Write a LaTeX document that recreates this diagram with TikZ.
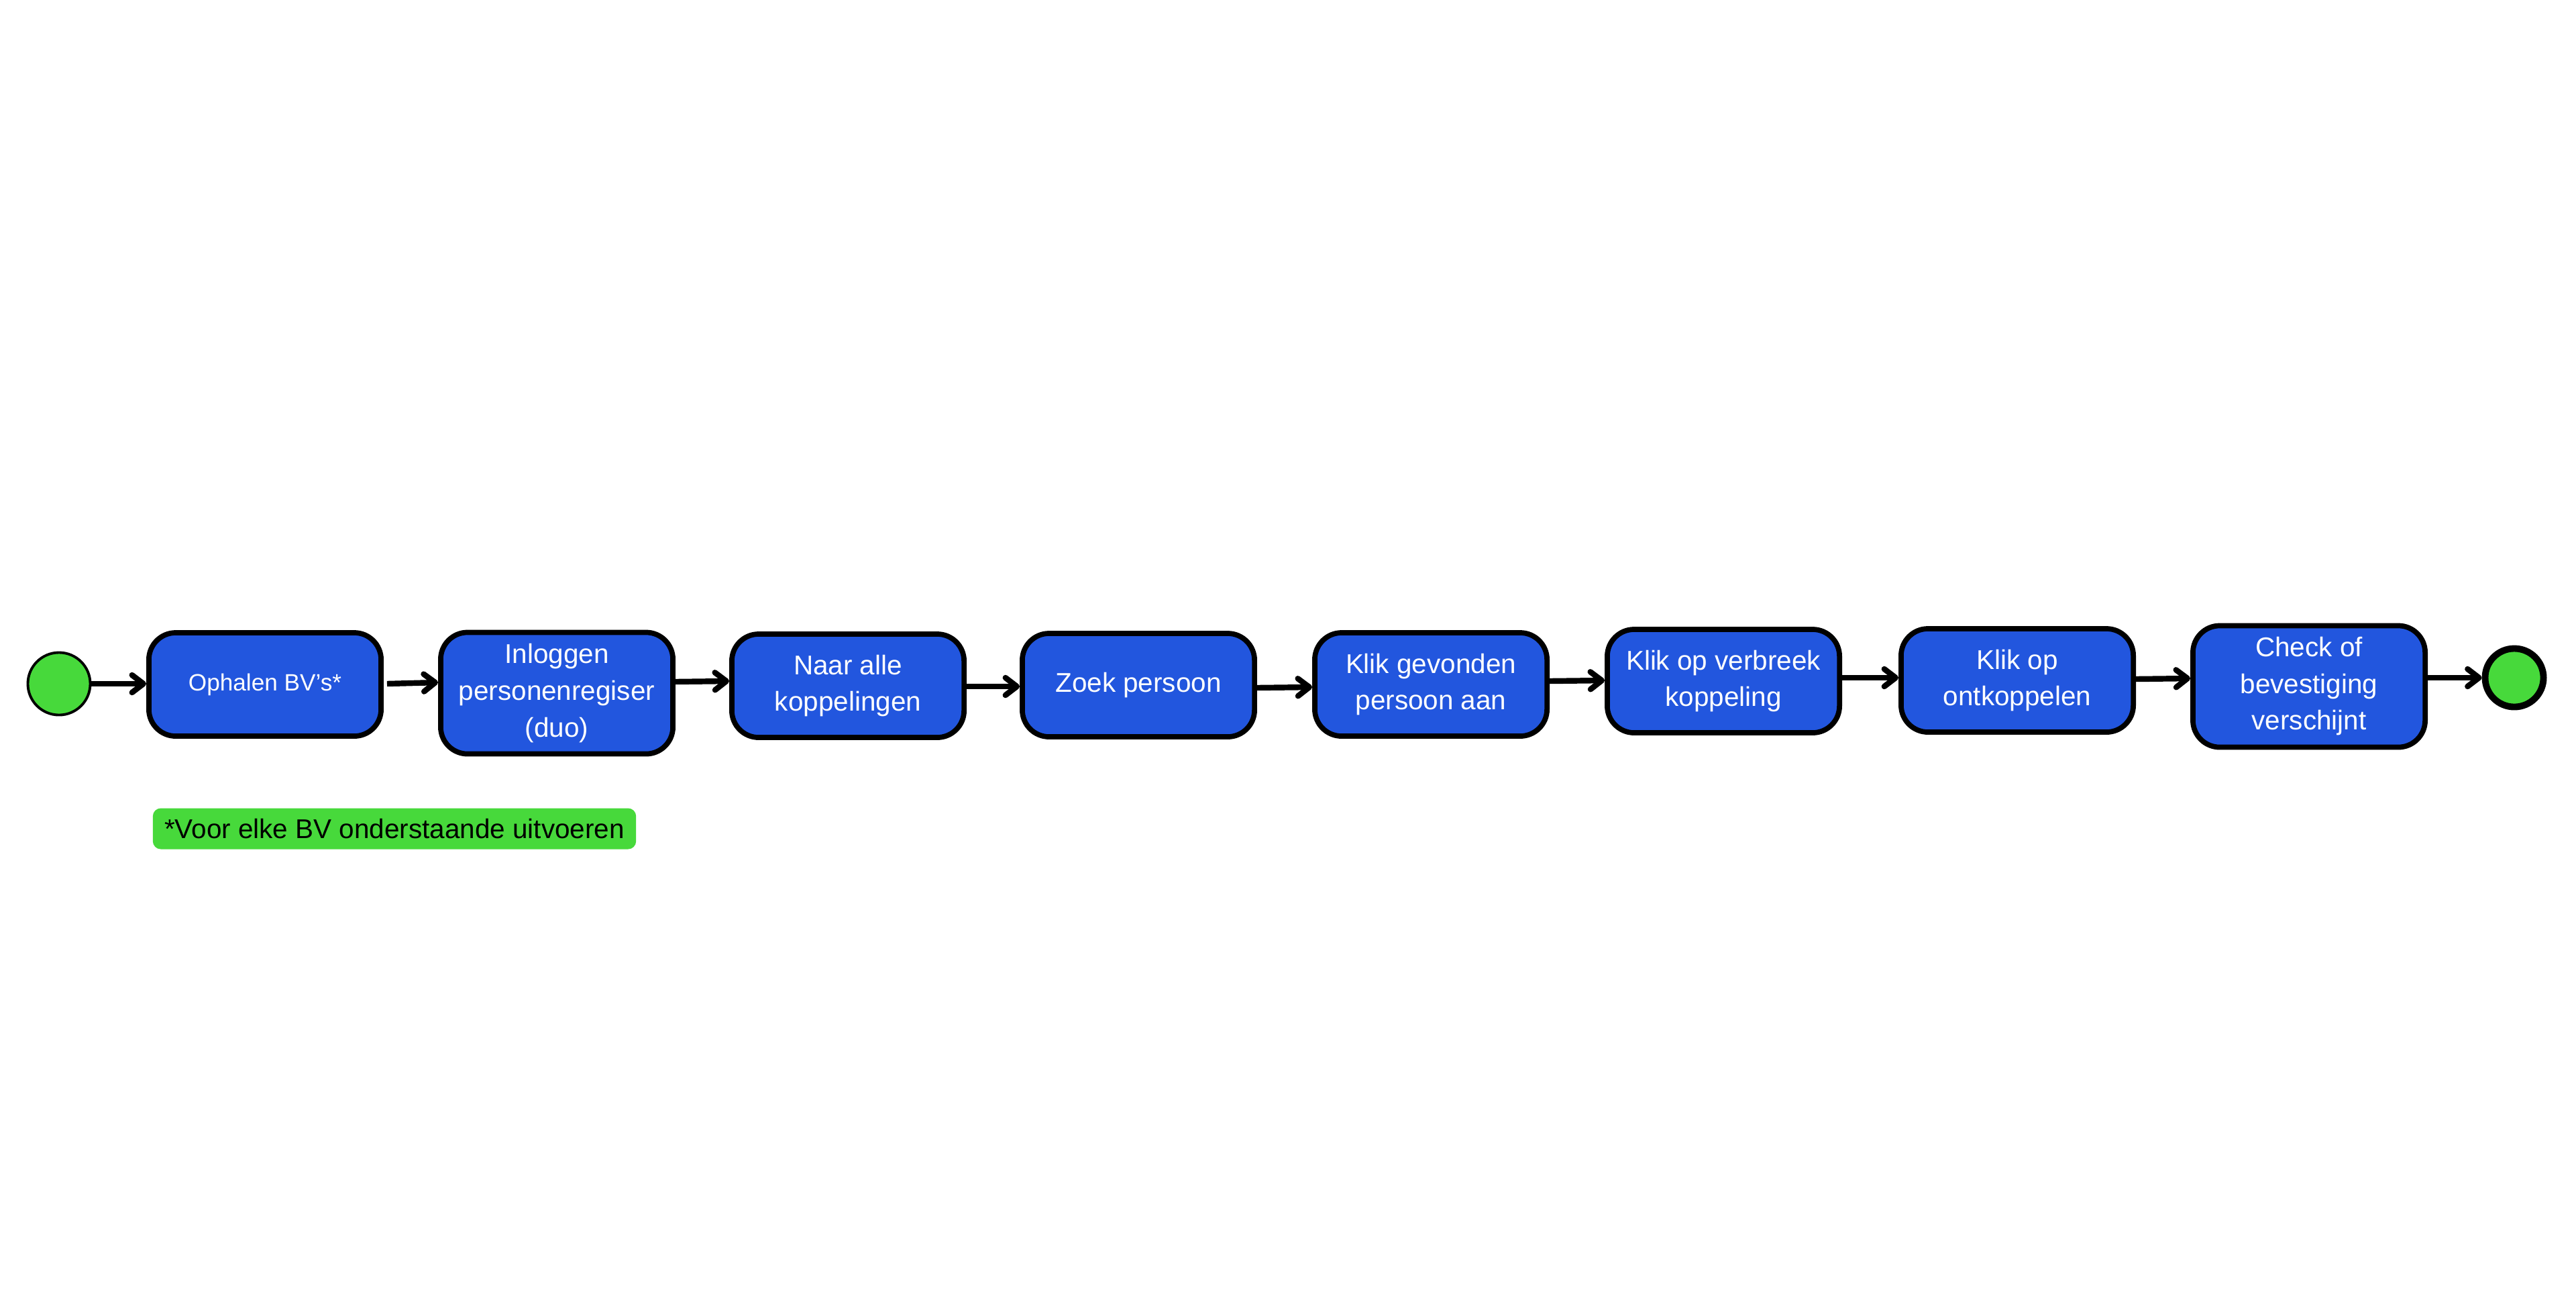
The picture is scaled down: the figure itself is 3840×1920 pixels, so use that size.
\documentclass[tikz,border=0pt]{standalone}
\usepackage{fontspec}
\setmainfont{Liberation Sans}
\usetikzlibrary{arrows.meta}
\definecolor{boxblue}{HTML}{2256DE}
\definecolor{stategreen}{HTML}{47D93B}
\tikzset{
  stepbox/.style={draw=black, line width=2.2pt, fill=boxblue, rounded corners=0.4cm,
    minimum width=3.46cm, minimum height=1.54cm, align=center, text=white,
    font=\fontsize{11.5}{15.5}\selectfont, inner sep=0pt},
  tallbox/.style={stepbox, minimum height=1.81cm},
  startnode/.style={circle, draw=black, line width=1.1pt, fill=stategreen, minimum size=0.93cm, inner sep=0pt},
  endnode/.style={circle, draw=black, line width=2.8pt, fill=stategreen, minimum size=0.87cm, inner sep=0pt},
  flow/.style={line width=2.4pt, -{Straight Barb[length=0.17cm, width=0.26cm, line cap=round, line join=round]}},
  notebox/.style={fill=stategreen, rounded corners=0.12cm, minimum width=7.2cm, minimum height=0.61cm,
    inner sep=0pt, font=\fontsize{11.5}{14}\selectfont, text=black}
}
\begin{document}
\begin{tikzpicture}[x=0.01cm, y=-0.01cm]
\useasboundingbox (0,0) rectangle (3840,1920);
\fill[white] (0,0) rectangle (3840,1920);
\node[startnode] (start) at (88,1019) {};
\node[stepbox, font=\fontsize{10}{13}\selectfont] (b1) at (395,1020) {Ophalen BV's*};
\node[tallbox] (b2) at (830,1033) {Inloggen\\personenregiser\\(duo)};
\node[stepbox] (b3) at (1264,1022) {Naar alle\\koppelingen};
\node[stepbox] (b4) at (1697,1021) {Zoek persoon};
\node[stepbox] (b5) at (2133,1020) {Klik gevonden\\persoon aan};
\node[stepbox] (b6) at (2569,1015) {Klik op verbreek\\koppeling};
\node[stepbox] (b7) at (3007,1014) {Klik op\\ontkoppelen};
\node[tallbox] (b8) at (3442,1023) {Check of\\bevestiging\\verschijnt};
\node[endnode] (end) at (3748,1010) {};
\node[notebox] (note) at (588,1235) {*Voor elke BV onderstaande uitvoeren};
\draw[flow] (start.east) -- (b1.west |- start.east);
\draw[flow] ([xshift=0.05cm]b1.east |- 0,1019) -- (b2.west |- 0,1017);
\draw[flow] (b2.east |- 0,1016) -- (b3.west |- 0,1015);
\draw[flow] (b3.east |- 0,1023) -- (b4.west |- 0,1023);
\draw[flow] (b4.east |- 0,1025) -- (b5.west |- 0,1024);
\draw[flow] (b5.east |- 0,1015) -- (b6.west |- 0,1014);
\draw[flow] (b6.east |- 0,1010) -- (b7.west |- 0,1010);
\draw[flow] (b7.east |- 0,1012) -- (b8.west |- 0,1011);
\draw[flow] (b8.east |- 0,1010) -- (end.west);
\end{tikzpicture}
\end{document}
